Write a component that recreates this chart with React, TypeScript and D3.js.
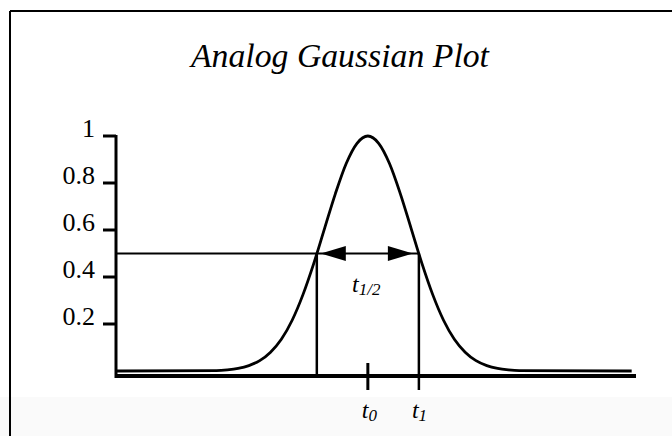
import React from "react";
import * as d3 from "d3";

// Sample times (units of sigma, centred on t0) and the normalised pulse amplitude.
const sampleTimes = [
  -5.8, -3.5, -3.25, -3.0, -2.75, -2.5, -2.25, -2.0, -1.75, -1.5, -1.25, -1.0, -0.75, -0.5, -0.25,
  0, 0.25, 0.5, 0.75, 1.0, 1.25, 1.5, 1.75, 2.0, 2.25, 2.5, 2.75, 3.0, 3.25, 3.5, 6.1,
];
const sampleValues = [
  0, 0.002, 0.005, 0.011, 0.023, 0.044, 0.08, 0.135, 0.216, 0.325, 0.458, 0.607, 0.755, 0.883, 0.969,
  1, 0.969, 0.883, 0.755, 0.607, 0.458, 0.325, 0.216, 0.135, 0.08, 0.044, 0.023, 0.011, 0.005, 0.002, 0,
];

const yTickValues = [0.2, 0.4, 0.6, 0.8, 1];
const yTickLabels = ["0.2", "0.4", "0.6", "0.8", "1"];

// Half-maximum level and the two times where the pulse crosses it.
const halfLevel = 0.5;
const halfTimes = [-1.18, 1.18];
const peakTime = 0;

const W = 672;
const H = 436;
const serif = "'Liberation Serif', 'DejaVu Serif', serif";

export default function App() {
  const x = d3.scaleLinear().domain([-5.8, 6.2]).range([117, 636]);
  const y = d3.scaleLinear().domain([0, 1]).range([371, 136]);
  const axisY = 376;

  const points = sampleTimes.map((t, i) => [t, sampleValues[i]] as [number, number]);
  const line = d3
    .line<[number, number]>()
    .x((d) => x(d[0]))
    .y((d) => y(d[1]))
    .curve(d3.curveMonotoneX);

  const xl = x(halfTimes[0]);
  const xr = x(halfTimes[1]);
  const yh = y(halfLevel);
  const headLen = 25;
  const headHalf = 7.5;

  return (
    <svg
      width={W}
      height={H}
      viewBox={`0 0 ${W} ${H}`}
      style={{ position: "absolute", left: 0, top: 0, background: "#fff" }}
    >
      <rect x={0} y={0} width={W} height={H} fill="#ffffff" />
      <rect x={0} y={397} width={W} height={H - 397} fill="#fafafa" />

      {/* frame */}
      <line x1={10} y1={11} x2={W} y2={11} stroke="#000" strokeWidth={2} />
      <line x1={10} y1={11} x2={10} y2={H} stroke="#000" strokeWidth={2} />

      <text
        x={340}
        y={67}
        textAnchor="middle"
        fontFamily={serif}
        fontStyle="italic"
        fontSize={34}
        textLength={298}
        lengthAdjust="spacingAndGlyphs"
        fill="#000"
      >
        Analog Gaussian Plot
      </text>

      {/* y axis */}
      <line x1={116} y1={y(1) - 1} x2={116} y2={axisY + 2} stroke="#000" strokeWidth={3} />
      {yTickValues.map((v, i) => (
        <g key={v}>
          <line x1={103} y1={y(v)} x2={116} y2={y(v)} stroke="#000" strokeWidth={3} />
          <text
            x={95}
            y={y(v) + 1}
            textAnchor="end"
            fontFamily={serif}
            fontSize={26}
            fill="#000"
          >
            {yTickLabels[i]}
          </text>
        </g>
      ))}

      {/* x axis */}
      <line x1={116} y1={axisY} x2={636} y2={axisY} stroke="#000" strokeWidth={4} />

      {/* pulse */}
      <path d={line(points) ?? ""} fill="none" stroke="#000" strokeWidth={2.8} />

      {/* half-maximum level */}
      <line x1={116} y1={yh} x2={xr} y2={yh} stroke="#000" strokeWidth={2} />
      <line x1={xl} y1={yh} x2={xl} y2={axisY} stroke="#000" strokeWidth={2.5} />
      <line x1={xr} y1={yh} x2={xr} y2={axisY + 14} stroke="#000" strokeWidth={2.5} />
      <line x1={x(peakTime)} y1={axisY - 13} x2={x(peakTime)} y2={axisY + 14} stroke="#000" strokeWidth={3} />

      {/* width arrows */}
      <path
        d={`M${xl + 4},${yh} L${xl + 4 + headLen},${yh - headHalf} L${xl + 4 + headLen},${yh + headHalf} Z`}
        fill="#000"
      />
      <path
        d={`M${xr - 6},${yh} L${xr - 6 - headLen},${yh - headHalf} L${xr - 6 - headLen},${yh + headHalf} Z`}
        fill="#000"
      />

      {/* labels */}
      <text x={352} y={292} fontFamily={serif} fontStyle="italic" fontSize={24} fill="#000">
        t<tspan fontSize={17} dy={3}>1/2</tspan>
      </text>
      <text x={x(peakTime) - 6} y={418} fontFamily={serif} fontStyle="italic" fontSize={24} fill="#000">
        t<tspan fontSize={17} dy={3}>0</tspan>
      </text>
      <text x={xr - 7} y={418} fontFamily={serif} fontStyle="italic" fontSize={24} fill="#000">
        t<tspan fontSize={17} dy={3}>1</tspan>
      </text>
    </svg>
  );
}
